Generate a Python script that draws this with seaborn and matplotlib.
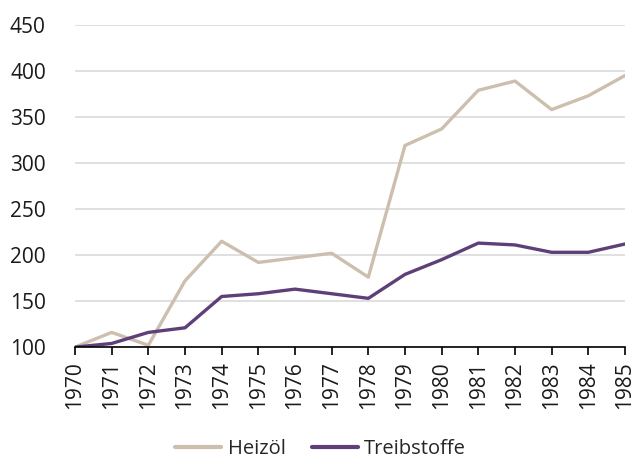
import matplotlib
matplotlib.use("Agg")
import matplotlib.pyplot as plt
import seaborn as sns
import pandas as pd

years = list(range(1970, 1986))
heizoel = [100, 116, 102, 172, 215, 192, 197, 202, 176, 319, 337, 379, 389, 358, 373, 395]
treibstoffe = [100, 104, 116, 121, 155, 158, 163, 158, 153, 179, 195, 213, 211, 203, 203, 212]
series_names = ["Heizöl", "Treibstoffe"]
colors = ["#CDBFAE", "#5E3F78"]
y_ticks = [100, 150, 200, 250, 300, 350, 400, 450]

sns.set_theme(style="white")
plt.rcParams['font.family'] = ['Open Sans', 'DejaVu Sans']

df = pd.DataFrame({"Jahr": years * 2,
                   "Wert": heizoel + treibstoffe,
                   "Serie": [series_names[0]] * len(years) + [series_names[1]] * len(years)})

fig = plt.figure(figsize=(6.41, 4.61), dpi=100)
ax = fig.add_axes([0.117, 0.247, 0.858, 0.699])
sns.lineplot(data=df, x="Jahr", y="Wert", hue="Serie", palette=colors,
             linewidth=2.4, ax=ax, legend=True)

ax.set_ylim(100, 450)
ax.set_xlim(1970, 1985)
ax.set_yticks(y_ticks)
ax.set_xticks(years)
ax.set_xticklabels([str(y) for y in years], rotation=90)
ax.grid(axis="y", color="#DADADA", linewidth=1.2)
ax.set_axisbelow(True)
for s in ["top", "right", "left"]:
    ax.spines[s].set_visible(False)
ax.spines["bottom"].set_color("black")
ax.spines["bottom"].set_linewidth(1.2)
ax.tick_params(axis="x", bottom=True, length=6, width=1.2, color="black",
               labelsize=15, pad=4, labelcolor="#1a1a1a")
ax.tick_params(axis="y", left=False, labelsize=15, pad=15, labelcolor="#1a1a1a")
ax.set_xlabel("")
ax.set_ylabel("")

handles, labels = ax.get_legend_handles_labels()
ax.get_legend().remove()
fig.legend(handles, labels, loc="lower center", bbox_to_anchor=(0.5, 0.004), ncol=2,
           frameon=False, fontsize=14.5, handlelength=2.3, columnspacing=1.3,
           handletextpad=0.3, borderpad=0.0, borderaxespad=0.0)
for line in fig.legends[0].get_lines():
    line.set_linewidth(3)

fig.savefig("out.png", dpi=100)
